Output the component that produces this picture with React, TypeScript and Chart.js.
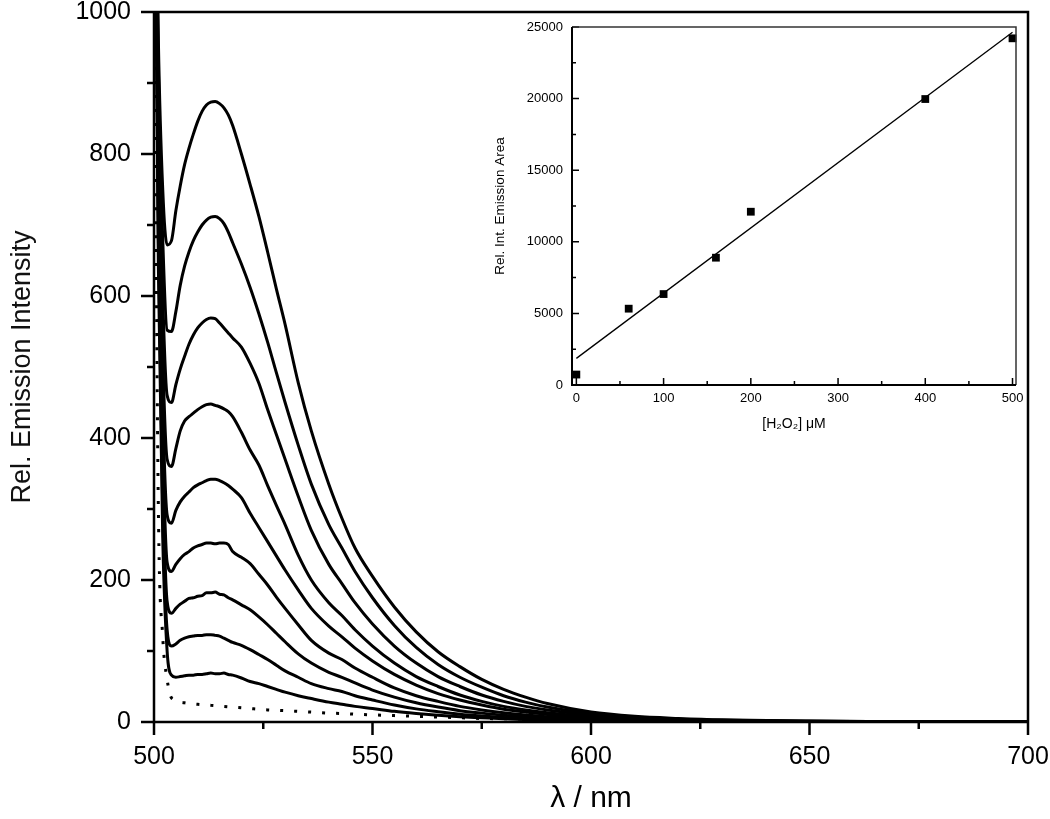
import React, { useEffect, useRef } from 'react';
import { Chart, registerables } from 'chart.js';
Chart.register(...registerables);
Chart.defaults.font.family = '"Liberation Sans", Arial, sans-serif';

// ---- Main spectra ----
const wavelengths = [500, 501, 502, 503, 504, 505, 506, 507, 508, 509, 510, 511, 512, 513, 514, 515, 516, 517, 518, 520, 522, 524, 526, 528, 530, 533, 536, 540, 543, 546, 550, 555, 560, 565, 570, 575, 580, 585, 590, 600, 610, 620, 630, 650, 670, 700];

const curve1 = [1400, 960, 750, 672, 678, 720, 755, 785, 808, 828, 846, 860, 869, 873, 874, 871, 865, 855, 840, 800, 757, 712, 662, 610, 560, 478, 410, 335, 287, 245, 205, 162, 127, 99, 78, 60, 46, 35, 26, 14, 8, 5, 3, 1.5, 0.5, 0];
const curve2 = [1400, 920, 680, 552, 550, 578, 615, 642, 662, 678, 690, 700, 707, 711, 712, 709, 702, 690, 675, 645, 612, 575, 535, 492, 450, 390, 335, 278, 245, 212, 175, 136, 105, 81, 63, 49, 37, 28, 21, 12, 7, 4, 2.5, 1, 0.5, 0];
const curve3 = [1400, 880, 600, 460, 450, 475, 497, 515, 532, 545, 555, 562, 567, 569, 568, 562, 555, 548, 541, 528, 505, 477, 440, 405, 370, 318, 270, 222, 195, 168, 138, 107, 83, 64, 50, 38, 29, 22, 17, 10, 6, 3.5, 2, 1, 0.3, 0];
const curve4 = [1400, 840, 520, 370, 360, 385, 410, 424, 430, 435, 440, 444, 447, 448, 446, 444, 441, 437, 430, 408, 383, 362, 333, 305, 278, 235, 200, 168, 150, 130, 107, 83, 64, 50, 38, 29, 22, 17, 13, 7.5, 4.5, 2.5, 1.5, 0.7, 0.3, 0];
const curve5 = [1400, 800, 450, 292, 280, 298, 310, 318, 324, 330, 334, 337, 340, 342, 342, 340, 337, 333, 328, 316, 294, 274, 254, 234, 214, 186, 160, 135, 120, 104, 86, 67, 52, 40, 31, 24, 18, 14, 10.5, 6, 3.5, 2, 1.2, 0.5, 0.2, 0];
const curve6 = [1400, 760, 400, 225, 212, 222, 230, 236, 240, 245, 248, 250, 252, 252, 251, 252, 252, 250, 240, 232, 223, 208, 193, 176, 160, 137, 115, 97, 88, 76, 63, 48, 37, 29, 22, 17, 13, 10, 7.5, 4.5, 2.5, 1.5, 1, 0.4, 0.2, 0];
const curve7 = [1400, 720, 350, 170, 153, 160, 166, 170, 174, 175, 177, 178, 182, 182, 183, 180, 179, 175, 172, 165, 158, 148, 137, 125, 113, 96, 83, 70, 63, 55, 45, 35, 27, 21, 16, 12.5, 9.5, 7.5, 5.5, 3.3, 2, 1.2, 0.7, 0.3, 0.1, 0];
const curve8 = [1400, 680, 300, 130, 107, 110, 115, 118, 120, 121, 122, 122, 123, 123, 122, 121, 118, 115, 112, 108, 102, 95, 88, 80, 72, 63, 54, 47, 43, 37, 31, 24, 18.5, 14.5, 11, 8.5, 6.5, 5, 3.8, 2.2, 1.3, 0.8, 0.5, 0.2, 0.1, 0];
const curve9 = [1400, 640, 260, 100, 66, 63, 64, 65, 66, 66, 67, 67, 68, 69, 68, 68, 69, 67, 66, 62, 57, 54, 50, 46, 42, 37, 33, 28, 25, 22, 19, 15, 12, 9.5, 7.5, 6, 4.5, 3.5, 2.7, 1.6, 1, 0.6, 0.4, 0.2, 0.1, 0];
const blankCurve = [1100, 300, 120, 60, 34, 31, 28, 27, 26, 25.5, 25, 24.5, 24, 23.5, 23, 22.5, 22, 21.5, 21, 20, 19, 18, 17, 16.5, 16, 15, 14, 12.5, 12, 11, 10, 9, 8, 7, 6, 5, 4.5, 4, 3.5, 2.5, 2, 1.5, 1, 0.5, 0.3, 0];

const mainXMajor = [500, 550, 600, 650, 700];
const mainXMinor = [525, 575, 625, 675];
const mainYMajor = [0, 200, 400, 600, 800, 1000];
const mainYMinor = [100, 300, 500, 700, 900];

// ---- Inset ----
const h2o2 = [0, 60, 100, 160, 200, 400, 500];
const emissionArea = [730, 5330, 6350, 8890, 12100, 19970, 24210];
const fitX = [0, 500];
const fitY = [1860, 24640];
const insetXMajor = [0, 100, 200, 300, 400, 500];
const insetXMinor = [50, 150, 250, 350, 450];
const insetYMajor = [0, 5000, 10000, 15000, 20000, 25000];
const insetYMinor = [2500, 7500, 12500, 17500, 22500];

const tickPlugin = {
  id: 'customTicks',
  afterDraw(chart: any, _a: any, o: any) {
    const { ctx, chartArea: a, scales } = chart;
    const xs = scales.x, ys = scales.y;
    ctx.save();
    ctx.lineCap = 'butt';
    const dir = o.inward ? -1 : 1;
    ctx.strokeStyle = '#000';
    ctx.lineWidth = o.tickWidth;
    ctx.beginPath();
    const xt = (vals: number[], len: number) => vals.forEach((v) => {
      const p = xs.getPixelForValue(v);
      ctx.moveTo(p, a.bottom); ctx.lineTo(p, a.bottom + dir * len);
    });
    const yt = (vals: number[], len: number) => vals.forEach((v) => {
      const p = ys.getPixelForValue(v);
      ctx.moveTo(a.left, p); ctx.lineTo(a.left - dir * len, p);
    });
    xt(o.xMajor, o.majorLen); xt(o.xMinor, o.minorLen);
    yt(o.yMajor, o.majorLen); yt(o.yMinor, o.minorLen);
    ctx.stroke();
    ctx.strokeStyle = o.frameColor;
    ctx.lineWidth = o.frameWidth;
    ctx.beginPath(); ctx.moveTo(a.left, a.top); ctx.lineTo(a.right, a.top); ctx.lineTo(a.right, a.bottom); ctx.stroke();
    ctx.strokeStyle = '#000';
    ctx.lineWidth = o.axisWidth;
    ctx.beginPath(); ctx.moveTo(a.left, a.top); ctx.lineTo(a.left, a.bottom); ctx.lineTo(a.right, a.bottom); ctx.stroke();
    ctx.restore();
  },
};

function MainChart() {
  const ref = useRef<HTMLCanvasElement>(null);
  useEffect(() => {
    const series = [curve1, curve2, curve3, curve4, curve5, curve6, curve7, curve8, curve9];
    const datasets: any[] = series.map((s) => ({
      data: s.map((v, i) => ({ x: wavelengths[i], y: v })),
      borderColor: '#000', borderWidth: 3, pointRadius: 0, fill: false,
      cubicInterpolationMode: 'monotone',
    }));
    datasets.push({
      data: blankCurve.map((v, i) => ({ x: wavelengths[i], y: v })),
      borderColor: '#000', borderWidth: 3, pointRadius: 0, fill: false,
      cubicInterpolationMode: 'monotone', borderDash: [3, 11],
    });
    const chart = new Chart(ref.current!, {
      type: 'line',
      data: { datasets },
      options: {
        responsive: false, animation: false, devicePixelRatio: 1,
        layout: { padding: { left: 0, top: 12, right: 22, bottom: 0 } },
        plugins: {
          legend: { display: false }, tooltip: { enabled: false },
          customTicks: {
            xMajor: mainXMajor, xMinor: mainXMinor, yMajor: mainYMajor, yMinor: mainYMinor,
            majorLen: 13, minorLen: 7, tickWidth: 2.5, inward: false,
            frameWidth: 2.5, axisWidth: 2.5, frameColor: '#000',
          },
        } as any,
        scales: {
          x: {
            type: 'linear', min: 500, max: 700,
            afterBuildTicks: (s: any) => { s.ticks = mainXMajor.map((v) => ({ value: v })); },
            afterFit: (s: any) => { s.height = 97; s.paddingLeft = 0; s.paddingRight = 0; },
            grid: { display: false, drawTicks: false }, border: { display: false },
            ticks: { padding: 20, font: { size: 25 }, color: '#000', maxRotation: 0, autoSkip: false, callback: (v: any) => String(v) },
            title: { display: true, text: 'λ / nm', font: { size: 30 }, color: '#000', padding: { top: 0, bottom: 2 } },
          },
          y: {
            type: 'linear', min: 0, max: 1000,
            afterBuildTicks: (s: any) => { s.ticks = mainYMajor.map((v) => ({ value: v })); },
            afterFit: (s: any) => { s.width = 154; s.paddingTop = 0; s.paddingBottom = 0; },
            grid: { display: false, drawTicks: false }, border: { display: false },
            ticks: { padding: 23, font: { size: 25 }, color: '#000', autoSkip: false, callback: (v: any) => String(v) },
            title: { display: true, text: 'Rel. Emission Intensity', font: { size: 27 }, color: '#111', padding: { top: 6, bottom: 0 } },
          },
        },
      },
      plugins: [tickPlugin as any],
    });
    return () => chart.destroy();
  }, []);
  return <canvas ref={ref} width={1050} height={819} style={{ position: 'absolute', left: 0, top: 0, display: 'block' }} />;
}

function InsetChart() {
  const ref = useRef<HTMLCanvasElement>(null);
  useEffect(() => {
    const chart = new Chart(ref.current!, {
      type: 'scatter',
      data: {
        datasets: [
          {
            data: fitX.map((x, i) => ({ x, y: fitY[i] })),
            showLine: true, borderColor: '#000', borderWidth: 1.3, pointRadius: 0,
          } as any,
          {
            data: h2o2.map((x, i) => ({ x, y: emissionArea[i] })),
            showLine: false, pointStyle: 'rect', pointRadius: 5.5,
            backgroundColor: '#000', borderColor: '#000', borderWidth: 0, clip: false,
          } as any,
        ],
      },
      options: {
        responsive: false, animation: false, devicePixelRatio: 1,
        layout: { padding: { left: 0, top: 12, right: 9, bottom: 0 } },
        plugins: {
          legend: { display: false }, tooltip: { enabled: false },
          customTicks: {
            xMajor: insetXMajor, xMinor: insetXMinor, yMajor: insetYMajor, yMinor: insetYMinor,
            majorLen: 7, minorLen: 4, tickWidth: 1.5, inward: true,
            frameWidth: 1.5, axisWidth: 2, frameColor: '#333',
          },
        } as any,
        scales: {
          x: {
            type: 'linear', min: -5, max: 504,
            afterBuildTicks: (s: any) => { s.ticks = insetXMajor.map((v) => ({ value: v })); },
            afterFit: (s: any) => { s.height = 55; s.paddingLeft = 0; s.paddingRight = 0; },
            grid: { display: false, drawTicks: false }, border: { display: false },
            ticks: { padding: 6, font: { size: 13 }, color: '#000', maxRotation: 0, autoSkip: false, callback: (v: any) => String(v) },
            title: { display: true, text: '[H₂O₂] μM', font: { size: 14 }, color: '#000', padding: { top: 0, bottom: 7 } },
          },
          y: {
            type: 'linear', min: 0, max: 25000,
            afterBuildTicks: (s: any) => { s.ticks = insetYMajor.map((v) => ({ value: v })); },
            afterFit: (s: any) => { s.width = 92; s.paddingTop = 0; s.paddingBottom = 0; },
            grid: { display: false, drawTicks: false }, border: { display: false },
            ticks: { padding: 9, font: { size: 13 }, color: '#000', autoSkip: false, callback: (v: any) => String(v) },
            title: { display: true, text: 'Rel. Int. Emission Area', font: { size: 13.5 }, color: '#000', padding: { top: 12, bottom: 0 } },
          },
        },
      },
      plugins: [tickPlugin as any],
    });
    return () => chart.destroy();
  }, []);
  return <canvas ref={ref} width={545} height={425} style={{ position: 'absolute', left: 480, top: 15, display: 'block' }} />;
}

export default function App() {
  return (
    <div style={{ position: 'fixed', left: 0, top: 0, width: 1050, height: 819, background: '#fff' }}>
      <MainChart />
      <InsetChart />
    </div>
  );
}
